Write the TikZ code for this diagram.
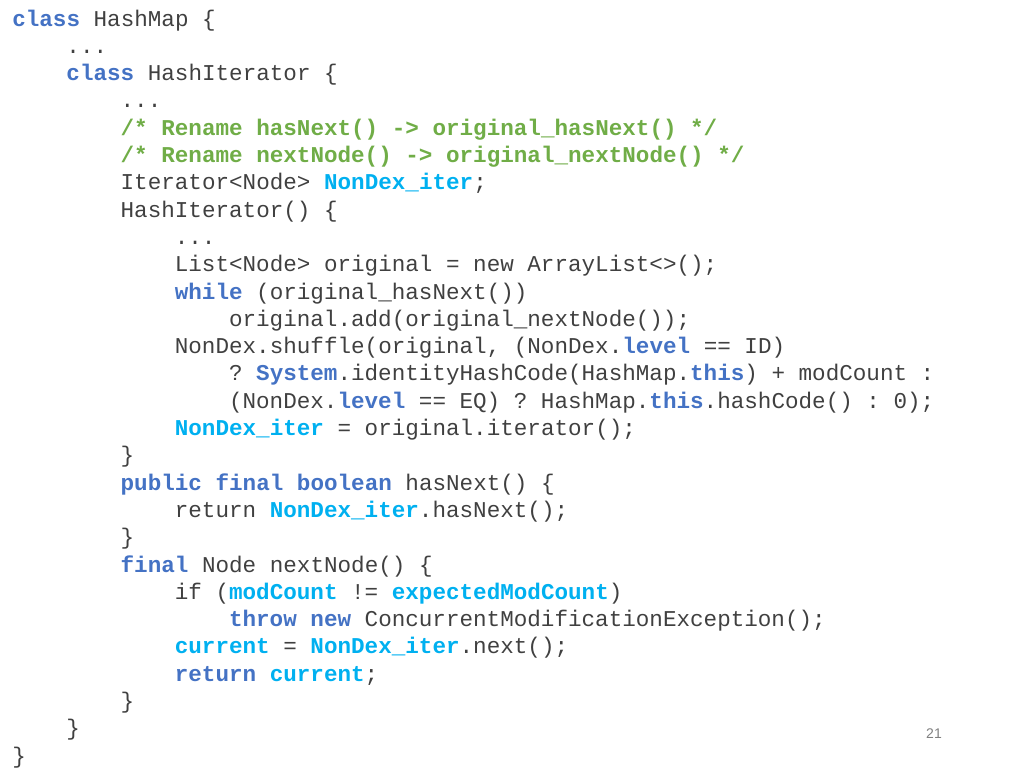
\documentclass[tikz,border=0pt]{standalone}
\usepackage{fontspec}
\setmonofont{Liberation Mono}
\setsansfont{Liberation Sans}
\definecolor{txt}{HTML}{404040}
\definecolor{kwc}{HTML}{4472C4}
\definecolor{ndc}{HTML}{00B0F0}
\definecolor{cmc}{HTML}{70AD47}
\newcommand{\kw}[1]{\textbf{\color{kwc}#1}}
\newcommand{\nd}[1]{\textbf{\color{ndc}#1}}
\newcommand{\cm}[1]{\textbf{\color{cmc}#1}}
\begin{document}
\begin{tikzpicture}[x=0.75pt,y=-0.75pt,
  ln/.style={anchor=base west,inner sep=0pt,text=txt,font=\ttfamily\fontsize{16.95}{20}\selectfont}]
\useasboundingbox (0,0) rectangle (1024,768);
\def\cw{13.55}
\def\L#1#2#3#4{\node[ln] (#1) at ({12+#2*\cw},{26+27.3*#3}) {#4};}
\L{l0}{0}{0}{\kw{class} HashMap \{}
\L{l1}{4}{1}{...}
\L{l2}{4}{2}{\kw{class} HashIterator \{}
\L{l3}{8}{3}{...}
\L{l4}{8}{4}{\cm{/* Rename hasNext() -> original\_hasNext() */}}
\L{l5}{8}{5}{\cm{/* Rename nextNode() -> original\_nextNode() */}}
\L{l6}{8}{6}{Iterator<Node> \nd{NonDex\_iter};}
\L{l7}{8}{7}{HashIterator() \{}
\L{l8}{12}{8}{...}
\L{l9}{12}{9}{List<Node> original = new ArrayList<>();}
\L{l10}{12}{10}{\kw{while} (original\_hasNext())}
\L{l11}{16}{11}{original.add(original\_nextNode());}
\L{l12}{12}{12}{NonDex.shuffle(original, (NonDex.\kw{level} == ID)}
\L{l13}{16}{13}{? \kw{System}.identityHashCode(HashMap.\kw{this}) + modCount :}
\L{l14}{16}{14}{(NonDex.\kw{level} == EQ) ? HashMap.\kw{this}.hashCode() : 0);}
\L{l15}{12}{15}{\nd{NonDex\_iter} = original.iterator();}
\L{l16}{8}{16}{\}}
\L{l17}{8}{17}{\kw{public} \kw{final} \kw{boolean} hasNext() \{}
\L{l18}{12}{18}{return \nd{NonDex\_iter}.hasNext();}
\L{l19}{8}{19}{\}}
\L{l20}{8}{20}{\kw{final} Node nextNode() \{}
\L{l21}{12}{21}{if (\nd{modCount} != \nd{expectedModCount})}
\L{l22}{16}{22}{\kw{throw} \kw{new} ConcurrentModificationException();}
\L{l23}{12}{23}{\nd{current} = \nd{NonDex\_iter}.next();}
\L{l24}{12}{24}{\kw{return} \nd{current};}
\L{l25}{8}{25}{\}}
\L{l26}{4}{26}{\}}
\L{l27}{0}{27}{\}}
\node[anchor=base,inner sep=0pt,text=gray,font=\sffamily\fontsize{10.5}{12}\selectfont] (pg) at (934,738) {21};
\end{tikzpicture}
\end{document}
